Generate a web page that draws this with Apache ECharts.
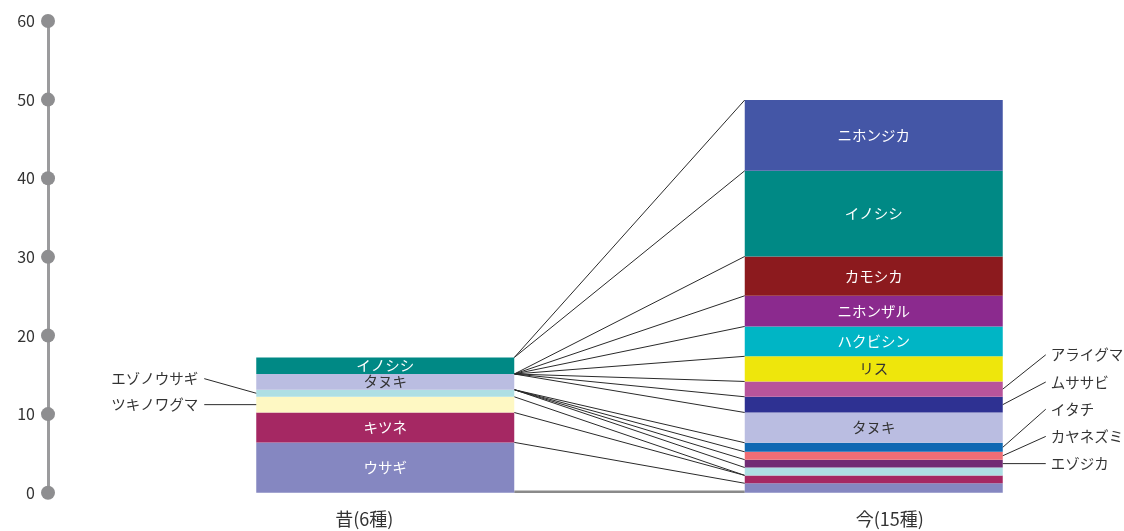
<!DOCTYPE html>
<html lang="ja">
<head>
<meta charset="utf-8">
<title>昔と今の哺乳類</title>
<script src="https://cdn.jsdelivr.net/npm/echarts@6/dist/echarts.min.js"></script>
<style>
  html, body { margin: 0; padding: 0; background: #fff; }
  #chart { width: 1124px; height: 531px; }
</style>
</head>
<body>
<div id="chart"></div>
<script>
// Periods on the x axis
const periods = ['昔(6種)', '今(15種)'];

// Species in stacking order (bottom to top)
const species = ['ウサギ', 'キツネ', 'ツキノワグマ', 'エゾノウサギ', 'エゾジカ', 'カヤネズミ', 'イタチ', 'タヌキ',
                 'ムササビ', 'アライグマ', 'リス', 'ハクビシン', 'ニホンザル', 'カモシカ', 'イノシシ', 'ニホンジカ'];

// Heights of each species band, past and present (null = absent)
const pastValues = [6.4, 3.8, 2.0, 0.9, null, null, null, 2.0, null, null, null, null, null, null, 2.1, null];
const nowValues  = [1.2, 1.0, null, 1.0, 1.0, 1.0, 1.15, 3.85, 2.0, 1.95, 3.2, 3.8, 3.9, 5.0, 10.9, 9.0];

// Connector lines: top of a past band -> top of a present band
const links = [
  ['イノシシ', 'ニホンジカ'], ['イノシシ', 'イノシシ'],
  ['タヌキ', 'カモシカ'], ['タヌキ', 'ニホンザル'], ['タヌキ', 'ハクビシン'], ['タヌキ', 'リス'],
  ['タヌキ', 'アライグマ'], ['タヌキ', 'ムササビ'], ['タヌキ', 'タヌキ'],
  ['エゾノウサギ', 'イタチ'], ['エゾノウサギ', 'カヤネズミ'], ['エゾノウサギ', 'エゾジカ'], ['エゾノウサギ', 'エゾノウサギ'],
  ['ツキノワグマ', 'キツネ'], ['キツネ', 'キツネ'], ['ウサギ', 'ウサギ']
];

// Labels written inside the bands
const pastInside = ['イノシシ', 'タヌキ', 'キツネ', 'ウサギ'];
const nowInside = ['ニホンジカ', 'イノシシ', 'カモシカ', 'ニホンザル', 'ハクビシン', 'リス', 'タヌキ'];

// Labels written outside with leader lines (bottom to top)
const pastCallouts = ['ツキノワグマ', 'エゾノウサギ'];
const nowCallouts = ['エゾジカ', 'カヤネズミ', 'イタチ', 'ムササビ', 'アライグマ'];

// Y axis ticks
const yTicks = [0, 10, 20, 30, 40, 50, 60];

// Band colours
const colors = {
  'ウサギ': '#8587c1', 'キツネ': '#a52863', 'ツキノワグマ': '#fef8c3', 'エゾノウサギ': '#aedfe4',
  'エゾジカ': '#722c74', 'カヤネズミ': '#f06d75', 'イタチ': '#0f68b3', 'タヌキ': '#babde1',
  'ムササビ': '#2e3192', 'アライグマ': '#b8549b', 'リス': '#eee60c', 'ハクビシン': '#00b5c5',
  'ニホンザル': '#8b2a8e', 'カモシカ': '#8c1a1e', 'イノシシ': '#008985', 'ニホンジカ': '#4456a6'
};
const darkText = ['タヌキ', 'リス'];

const FONT = '"Noto Sans CJK JP", "Noto Sans", sans-serif';
const BAR_W = 258;

// Cumulative tops of every band
function tops(values) {
  const out = {};
  let acc = 0;
  species.forEach((s, i) => {
    const v = values[i];
    const bottom = acc;
    if (v != null) acc += v;
    out[s] = { top: acc, bottom: bottom };
  });
  return out;
}
const pastTops = tops(pastValues);
const nowTops = tops(nowValues);

const barSeries = species.map((name, i) => ({
  name: name,
  type: 'bar',
  stack: 'all',
  xAxisIndex: 0,
  yAxisIndex: 0,
  barWidth: BAR_W,
  z: 3,
  itemStyle: { color: colors[name] },
  label: {
    show: false,
    position: 'inside',
    formatter: '{a}',
    fontFamily: FONT,
    fontSize: 14.5,
    color: darkText.includes(name) ? '#333' : '#fff'
  },
  data: [
    pastValues[i] == null ? '-' : { value: pastValues[i], label: { show: pastInside.includes(name) } },
    nowValues[i] == null ? '-' : { value: nowValues[i], label: { show: nowInside.includes(name) } }
  ]
}));

// Connector lines plus the grey base line between the bars
const linkSeries = {
  type: 'custom',
  xAxisIndex: 0,
  yAxisIndex: 0,
  z: 1,
  silent: true,
  data: links.map((l, i) => [0, 0, i]).concat([[0, 0, -1]]),
  renderItem: function (params, api) {
    const idx = params.dataIndex;
    const x1 = api.coord([0, 0])[0] + BAR_W / 2;
    const x2 = api.coord([1, 0])[0] - BAR_W / 2;
    if (idx >= links.length) {
      const y0 = api.coord([0, 0])[1] - 1;
      return { type: 'line', shape: { x1: x1, y1: y0, x2: x2, y2: y0 },
               style: { stroke: '#8a8a8a', lineWidth: 2.5 } };
    }
    const l = links[idx];
    const y1 = api.coord([0, pastTops[l[0]].top])[1];
    const y2 = api.coord([1, nowTops[l[1]].top])[1];
    return { type: 'line', shape: { x1: x1, y1: y1, x2: x2, y2: y2 },
             style: { stroke: '#2a2a2a', lineWidth: 1 } };
  }
};

// Outside labels with leader lines
const calloutItems = pastCallouts.map((n, k) => [0, 0, 0, k]).concat(nowCallouts.map((n, k) => [0, 0, 1, k]));
const calloutSeries = {
  type: 'custom',
  xAxisIndex: 0,
  yAxisIndex: 0,
  z: 4,
  silent: true,
  clip: false,
  data: calloutItems,
  renderItem: function (params, api) {
    const item = calloutItems[params.dataIndex];
    const side = item[2], k = item[3];
    const list = side === 0 ? pastCallouts : nowCallouts;
    const tb = side === 0 ? pastTops : nowTops;
    const name = list[k];
    const band = tb[name];
    const midY = api.coord([side, (band.top + band.bottom) / 2])[1];
    const firstBand = tb[list[0]];
    const baseY = api.coord([side, (firstBand.top + firstBand.bottom) / 2])[1];
    const step = side === 0 ? 26 : 27.2;
    const labelY = baseY - k * step;
    const cx = api.coord([side, 0])[0];
    if (side === 0) {
      const edge = cx - BAR_W / 2;
      return { type: 'group', children: [
        { type: 'line', shape: { x1: edge - 52, y1: labelY, x2: edge, y2: midY },
          style: { stroke: '#2a2a2a', lineWidth: 1 } },
        { type: 'text', style: { text: name, x: edge - 58, y: labelY, align: 'right', verticalAlign: 'middle',
          font: '14.5px ' + FONT, fill: '#333' } }
      ] };
    }
    const edge = cx + BAR_W / 2;
    return { type: 'group', children: [
      { type: 'line', shape: { x1: edge, y1: midY, x2: edge + 43, y2: labelY },
        style: { stroke: '#2a2a2a', lineWidth: 1 } },
      { type: 'text', style: { text: name, x: edge + 48, y: labelY, align: 'left', verticalAlign: 'middle',
        font: '14.5px ' + FONT, fill: '#333' } }
    ] };
  }
};

// Dots on the y axis
const tickDots = {
  type: 'scatter',
  xAxisIndex: 1,
  yAxisIndex: 1,
  symbol: 'circle',
  symbolSize: 14,
  silent: true,
  itemStyle: { color: '#8e8e90', opacity: 1 },
  data: yTicks.map(t => [0, t]),
  z: 5
};

const chart = echarts.init(document.getElementById('chart'));
chart.setOption({
  animation: false,
  backgroundColor: '#fff',
  textStyle: { fontFamily: FONT },
  grid: [
    { left: 141, right: 6, top: 21, bottom: 38.3 },
    { left: 48, width: 1, top: 21, bottom: 38.3 }
  ],
  xAxis: [
    {
      type: 'category', gridIndex: 0, data: periods,
      axisLine: { show: false }, axisTick: { show: false },
      axisLabel: {
        margin: 17,
        formatter: (v, i) => (i === 0 ? '{a|' + v + '}' : '{b|' + v + '}'),
        rich: {
          a: { fontSize: 18, color: '#333', fontFamily: FONT, padding: [0, 42, 0, 0] },
          b: { fontSize: 18, color: '#333', fontFamily: FONT, padding: [0, 0, 0, 32] }
        }
      }
    },
    { type: 'value', gridIndex: 1, min: 0, max: 1, show: false }
  ],
  yAxis: [
    { type: 'value', gridIndex: 0, min: 0, max: 60, interval: 10, show: false },
    {
      type: 'value', gridIndex: 1, min: 0, max: 60, interval: 10, position: 'left',
      axisLine: { show: true, lineStyle: { color: '#9b9b9d', width: 3 } },
      axisTick: { show: false },
      splitLine: { show: false },
      axisLabel: { margin: 13, fontSize: 16, color: '#333', fontFamily: FONT }
    }
  ],
  series: [linkSeries].concat(barSeries, [calloutSeries, tickDots])
});
</script>
</body>
</html>
